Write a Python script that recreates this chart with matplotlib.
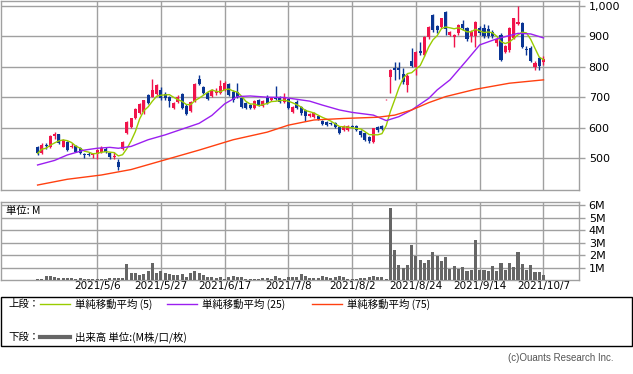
import matplotlib
matplotlib.use("Agg")
import matplotlib.pyplot as plt
from matplotlib.patches import Rectangle
from matplotlib.lines import Line2D
import numpy as np
import pandas as pd

plt.rcParams['font.family'] = ['Noto Sans CJK JP', 'DejaVu Sans']

# 日足 OHLC (円)
opens = [537, 515, 542, 535, 572, 579, 537, 551, 537, 539, 532, 514, 514, 510, 513, 521, 531, 517, 502, 486,
         529, 581, 601, 630, 647, 650, 707, 702, 712, 724, 712, 700, 665, 684, 710, 672, 655, 688, 760, 732,
         715, 704, 713, 713, 724, 743, 718, 718, 696, 680, 674, 663, 691, 672, 702, 690, 696, 702, 685, 693,
         652, 685, 669, 658, 638, 634, 638, 622, 619, 615, 616, 603, 592, 592, 605, 605, 589, 583, 568, 551,
         601, 604, 693, 766, 795, 797, 776, 741, 820, 800, 853, 840, 897, 970, 934, 932, 979, 905, 897, 910,
         940, 927, 900, 901, 927, 927, 924, 916, 877, 905, 850, 855, 894, 940, 945, 858, 861, 800, 828, 817]
highs = [540, 548, 548, 575, 585, 580, 562, 555, 548, 542, 535, 518, 520, 516, 528, 540, 536, 520, 520, 497,
         556, 622, 633, 665, 682, 692, 712, 760, 745, 735, 718, 704, 683, 708, 713, 676, 688, 748, 773, 736,
         718, 726, 730, 755, 752, 746, 722, 746, 700, 684, 678, 692, 695, 691, 706, 700, 737, 705, 713, 697,
         672, 690, 672, 661, 648, 650, 641, 625, 622, 618, 619, 605, 608, 607, 608, 607, 592, 586, 572, 600,
         605, 608, 694, 792, 817, 817, 795, 775, 861, 853, 882, 900, 935, 975, 937, 962, 983, 919, 908, 940,
         954, 930, 920, 950, 935, 940, 938, 920, 893, 910, 872, 930, 962, 1000, 948, 868, 870, 820, 832, 836]
lows = [510, 512, 530, 532, 563, 545, 535, 522, 532, 519, 512, 500, 505, 500, 497, 518, 515, 498, 497, 460,
        527, 578, 598, 627, 644, 646, 678, 700, 708, 692, 692, 668, 660, 680, 662, 640, 650, 685, 740, 710,
        690, 700, 708, 710, 720, 705, 685, 698, 665, 660, 660, 660, 670, 668, 676, 686, 690, 682, 682, 660,
        647, 660, 643, 622, 635, 630, 624, 608, 605, 608, 600, 580, 588, 590, 598, 590, 570, 556, 548, 548,
        585, 592, 692, 713, 758, 760, 745, 718, 798, 773, 840, 835, 893, 915, 910, 928, 903, 900, 866, 905,
        922, 886, 882, 866, 905, 895, 895, 896, 870, 818, 845, 850, 890, 937, 862, 840, 815, 789, 790, 806]
closes = [515, 543, 538, 572, 580, 548, 559, 526, 541, 521, 515, 510, 510, 514, 526, 534, 520, 502, 507, 471,
          554, 619, 630, 660, 678, 690, 682, 724, 740, 696, 696, 686, 680, 702, 666, 645, 685, 745, 743, 713,
          695, 724, 720, 737, 746, 708, 690, 702, 669, 663, 664, 689, 674, 689, 680, 696, 694, 685, 696, 663,
          669, 663, 647, 638, 645, 647, 627, 611, 609, 612, 603, 583, 605, 604, 601, 592, 577, 560, 555, 598,
          591, 596, 693, 789, 788, 790, 750, 771, 804, 850, 845, 897, 930, 921, 920, 960, 924, 916, 905, 937,
          927, 890, 916, 947, 910, 900, 900, 902, 890, 822, 868, 927, 960, 948, 866, 856, 820, 813, 804, 825]
# 出来高 (M)
volumes = [0.08, 0.11, 0.3, 0.3, 0.24, 0.19, 0.13, 0.16, 0.13, 0.11, 0.13, 0.11, 0.08, 0.05, 0.05, 0.05, 0.08, 0.13, 0.18, 0.2,
           0.2, 1.3, 0.54, 0.6, 0.4, 0.46, 0.73, 1.36, 0.6, 0.7, 0.54, 0.46, 0.38, 0.4, 0.49, 0.22, 0.6, 0.7, 0.54, 0.4,
           0.22, 0.22, 0.16, 0.22, 0.11, 0.27, 0.33, 0.27, 0.27, 0.11, 0.11, 0.11, 0.11, 0.14, 0.16, 0.11, 0.33, 0.14, 0.11, 0.27,
           0.27, 0.22, 0.49, 0.33, 0.16, 0.16, 0.16, 0.33, 0.27, 0.16, 0.22, 0.33, 0.22, 0.08, 0.08, 0.08, 0.14, 0.16, 0.22, 0.33,
           0.27, 0.27, 0.05, 5.8, 2.38, 1.18, 0.94, 1.18, 2.78, 1.93, 1.58, 1.36, 1.58, 2.25, 1.95, 1.5, 1.82, 0.88, 1.1, 0.91,
           1.02, 0.75, 0.78, 3.26, 0.78, 0.78, 0.7, 1.15, 0.72, 1.34, 0.78, 1.34, 1.04, 2.22, 1.26, 0.8, 1.18, 0.62, 0.62, 0.37]

# 移動平均 (25/75) 読み取り値
ma25_idx = [0, 4, 7, 11, 14, 17, 19, 22, 26, 30, 34, 38, 41, 44, 47, 50, 54, 58, 61, 64, 67, 71, 74, 79, 82, 85, 88, 92, 94, 97, 101, 104, 108, 113, 116, 119]
ma25_val = [477, 492, 510, 526, 532, 535, 532, 538, 560, 576, 595, 614, 640, 678, 702, 704, 700, 699, 693, 687, 674, 658, 650, 641, 623, 636, 658, 696, 724, 757, 822, 872, 892, 910, 908, 895]
ma75_idx = [0, 7, 15, 22, 26, 30, 38, 46, 54, 59, 65, 72, 80, 84, 88, 92, 96, 103, 111, 119]
ma75_val = [411, 430, 444, 462, 478, 494, 526, 560, 585, 608, 625, 630, 634, 641, 658, 682, 702, 726, 746, 757]

tick_idx = [14, 29, 44, 59, 74, 89, 104, 119]
tick_labels = ['2021/5/6', '2021/5/27', '2021/6/17', '2021/7/8', '2021/8/2', '2021/8/24', '2021/9/14', '2021/10/7']
price_ticks = [500, 600, 700, 800, 900, 1000]
price_labels = ['500', '600', '700', '800', '900', '1,000']
vol_ticks = [1, 2, 3, 4, 5, 6]
vol_labels = ['1M', '2M', '3M', '4M', '5M', '6M']

UP = '#f0144b'
DOWN = '#0a3594'
GRID = '#a0a0a0'
W, H = 633, 374

fig = plt.figure(figsize=(W / 100, H / 100), dpi=100)
ax = fig.add_axes([1 / W, 1 - 190 / H, 578 / W, 189 / H])
axv = fig.add_axes([1 / W, 1 - 280 / H, 578 / W, 78 / H])

x = np.arange(len(closes))
o = np.array(opens); c = np.array(closes); hi = np.array(highs); lo = np.array(lows)
up = c >= o
cols = np.where(up, UP, DOWN)

for a in (ax, axv):
    a.set_xlim(-8.6, 127.35)
    for t in tick_idx:
        a.axvline(t, color=GRID, lw=1, zorder=0)
    for s in a.spines.values():
        s.set_color(GRID)
        s.set_linewidth(1)
    a.yaxis.tick_right()
    a.tick_params(axis='y', direction='out', length=4, width=1, color=GRID, pad=3, labelsize=8)
    a.tick_params(axis='x', length=0)

# ローソク足
ax.vlines(x, lo, hi, colors=cols, lw=1, zorder=2)
body = np.maximum(np.abs(c - o), 1.5)
ax.bar(x, body, bottom=np.minimum(o, c), width=0.72, color=cols, zorder=3, linewidth=0)

ma5 = pd.Series(closes).rolling(5, min_periods=1).mean()
ax.plot(x, ma5, color='#99cc00', lw=1, zorder=4)
ax.plot(ma25_idx, ma25_val, color='#9b1ff0', lw=1, zorder=4)
ax.plot(ma75_idx, ma75_val, color='#ff4010', lw=1, zorder=4)

ax.set_ylim(394.7, 1016.4)
ax.set_yticks(price_ticks)
ax.set_yticklabels(price_labels, family='DejaVu Sans')
for p in price_ticks:
    ax.axhline(p, color=GRID, lw=1, zorder=0)
ax.set_xticks(tick_idx)
ax.set_xticklabels([])

# 出来高
axv.bar(x, volumes, width=0.72, color='#666666', linewidth=0, zorder=3)
axv.set_ylim(0, 6.28)
axv.set_yticks(vol_ticks)
axv.set_yticklabels(vol_labels, family='DejaVu Sans')
for v in vol_ticks:
    axv.axhline(v, color=GRID, lw=1, zorder=0)
axv.set_xticks(tick_idx)
axv.set_xticklabels(tick_labels, family='DejaVu Sans', fontsize=7.5)
axv.tick_params(axis='x', pad=1)
axv.text(0.008, 0.95, '単位: M', transform=axv.transAxes, fontsize=7.5, va='top', ha='left')

# 凡例ボックス
def fx(px):
    return px / W

def fy(py):
    return 1 - py / H

fig.patches.append(Rectangle((fx(0.5), fy(346)), fx(631), 49 / H, transform=fig.transFigure,
                             fill=False, edgecolor='black', lw=1))
fs = 7.5
fig.text(fx(8), fy(304), '上段：', fontsize=fs, va='center')
fig.text(fx(8), fy(337), '下段：', fontsize=fs, va='center')
items = [(40, '#99cc00', '単純移動平均 (5)'), (167, '#9b1ff0', '単純移動平均 (25)'), (312, '#ff4010', '単純移動平均 (75)')]
for px, col, lab in items:
    fig.lines.append(Line2D([fx(px), fx(px + 30)], [fy(304), fy(304)], color=col, lw=1, transform=fig.transFigure))
    fig.text(fx(px + 35), fy(304), lab, fontsize=fs, va='center')
fig.lines.append(Line2D([fx(40), fx(70)], [fy(337), fy(337)], color='#666666', lw=3, transform=fig.transFigure))
fig.text(fx(75), fy(337), '出来高 単位:(M株/口/枚)', fontsize=fs, va='center')

fig.text(fx(614), fy(358), '(c)Ouants Research Inc.', fontsize=7, ha='right', va='center',
         color='#555555', family=['Liberation Sans', 'DejaVu Sans'])

fig.savefig('out.png', dpi=100)
